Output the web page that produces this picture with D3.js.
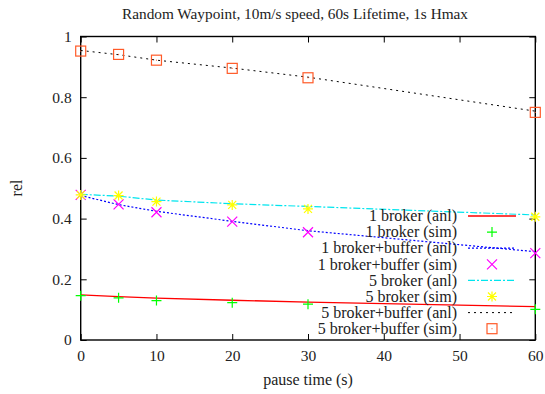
<!DOCTYPE html>
<html>
<head>
<meta charset="utf-8">
<script src="https://cdn.jsdelivr.net/npm/d3@7"></script>
<style>
  html, body { margin: 0; padding: 0; background: #fff; }
  svg text { font-family: "Liberation Serif", "Times New Roman", serif; fill: #222; }
</style>
</head>
<body>
<svg id="chart" width="545" height="394"></svg>
<script>
// Pause times (s) at which each configuration was evaluated
const pauseTimes = [0, 5, 10, 20, 30, 60];

// Reliability per configuration: analytical (anl) and simulated (sim)
const oneBrokerAnl       = [0.149, 0.143, 0.138, 0.131, 0.125, 0.110];
const oneBrokerSim       = [0.146, 0.139, 0.130, 0.123, 0.118, 0.101];
const oneBrokerBufAnl    = [0.476, 0.446, 0.424, 0.391, 0.360, 0.291];
const oneBrokerBufSim    = [0.478, 0.447, 0.421, 0.390, 0.355, 0.286];
const fiveBrokerAnl      = [0.480, 0.474, 0.461, 0.449, 0.440, 0.412];
const fiveBrokerSim      = [0.478, 0.476, 0.456, 0.445, 0.432, 0.406];
const fiveBrokerBufAnl   = [0.954, 0.940, 0.922, 0.896, 0.866, 0.754];
const fiveBrokerBufSim   = [0.952, 0.941, 0.922, 0.895, 0.864, 0.750];

const xTicks = [0, 10, 20, 30, 40, 50, 60];
const yTicks = [0, 0.2, 0.4, 0.6, 0.8, 1];

const seriesNames = [
  "1 broker (anl)", "1 broker (sim)",
  "1 broker+buffer (anl)", "1 broker+buffer (sim)",
  "5 broker (anl)", "5 broker (sim)",
  "5 broker+buffer (anl)", "5 broker+buffer (sim)"
];

(function () {
const svg = d3.select("#chart");
const plotLeft = 80.7, plotRight = 535.3, plotTop = 36.5, plotBottom = 340;
const fontSize = "16px";
const tickFont = "15.5px";

const x = d3.scaleLinear().domain([0, 60]).range([plotLeft, plotRight]);
const y = d3.scaleLinear().domain([0, 1]).range([plotBottom, plotTop]);

// Title
svg.append("text")
  .attr("x", 295).attr("y", 19)
  .attr("text-anchor", "middle")
  .style("font-size", "15.3px")
  .text("Random Waypoint, 10m/s speed, 60s Lifetime, 1s Hmax");

// Axes with inward ticks on all four sides
const tickLen = 6;
const axB = svg.append("g").attr("transform", `translate(0,${plotBottom})`)
  .call(d3.axisBottom(x).tickValues(xTicks).tickSizeInner(-tickLen).tickSizeOuter(0).tickPadding(10).tickFormat(d3.format("d")));
const axT = svg.append("g").attr("transform", `translate(0,${plotTop})`)
  .call(d3.axisTop(x).tickValues(xTicks).tickSizeInner(-tickLen).tickSizeOuter(0).tickFormat(""));
const axL = svg.append("g").attr("transform", `translate(${plotLeft},0)`)
  .call(d3.axisLeft(y).tickValues(yTicks).tickSizeInner(-tickLen).tickSizeOuter(0).tickPadding(9).tickFormat(d => d === 0 || d === 1 ? d3.format("d")(d) : d3.format(".1f")(d)));
const axR = svg.append("g").attr("transform", `translate(${plotRight},0)`)
  .call(d3.axisRight(y).tickValues(yTicks).tickSizeInner(-tickLen).tickSizeOuter(0).tickFormat(""));

[axB, axT, axL, axR].forEach(g => {
  g.select(".domain").remove();
  g.selectAll(".tick line").attr("stroke", "#000").attr("stroke-width", 1);
  g.selectAll("text").style("font-size", tickFont).attr("fill", "#222")
    .style("font-family", "'Liberation Serif', 'Times New Roman', serif");
});
axB.selectAll("text").attr("dy", "0.71em");

// Frame
svg.append("rect")
  .attr("x", plotLeft).attr("y", plotTop)
  .attr("width", plotRight - plotLeft).attr("height", plotBottom - plotTop)
  .attr("fill", "none").attr("stroke", "#000").attr("stroke-width", 1.4);

// Axis titles
svg.append("text")
  .attr("x", 308).attr("y", 385)
  .attr("text-anchor", "middle").style("font-size", fontSize)
  .text("pause time (s)");
svg.append("text")
  .attr("transform", "translate(22,188) rotate(-90)")
  .attr("text-anchor", "middle").style("font-size", fontSize)
  .text("rel");

// Point glyph drawers
const glyphs = {
  plus: (g, cx, cy, c) => {
    g.append("path").attr("d", `M${cx - 5},${cy}H${cx + 5}M${cx},${cy - 5}V${cy + 5}`)
      .attr("stroke", c).attr("stroke-width", 1.2).attr("fill", "none");
  },
  cross: (g, cx, cy, c) => {
    g.append("path").attr("d", `M${cx - 5},${cy - 5}L${cx + 5},${cy + 5}M${cx - 5},${cy + 5}L${cx + 5},${cy - 5}`)
      .attr("stroke", c).attr("stroke-width", 1.2).attr("fill", "none");
  },
  star: (g, cx, cy, c) => {
    g.append("path").attr("d", `M${cx - 5},${cy}H${cx + 5}M${cx},${cy - 5}V${cy + 5}M${cx - 4},${cy - 4}L${cx + 4},${cy + 4}M${cx - 4},${cy + 4}L${cx + 4},${cy - 4}`)
      .attr("stroke", c).attr("stroke-width", 1.2).attr("fill", "none");
  },
  square: (g, cx, cy, c) => {
    g.append("rect").attr("x", cx - 5).attr("y", cy - 5).attr("width", 10).attr("height", 10)
      .attr("stroke", c).attr("stroke-width", 1.2).attr("fill", "none");
    g.append("rect").attr("x", cx - 0.5).attr("y", cy - 0.5).attr("width", 1).attr("height", 1).attr("fill", c);
  }
};

const lineSeries = [
  { values: oneBrokerAnl,     color: "#ff0000", dash: null,        width: 1.3, legend: 0 },
  { values: oneBrokerBufAnl,  color: "#0000ff", dash: "2,2",       width: 1.2, legend: 2 },
  { values: fiveBrokerAnl,    color: "#00e5ee", dash: "7,2,2,2",   width: 1.2, legend: 4 },
  { values: fiveBrokerBufAnl, color: "#000000", dash: "2,4",       width: 1.0, legend: 6 }
];
const pointSeries = [
  { values: oneBrokerSim,     color: "#00ff00", glyph: "plus",   legend: 1 },
  { values: oneBrokerBufSim,  color: "#ff00ff", glyph: "cross",  legend: 3 },
  { values: fiveBrokerSim,    color: "#ffff00", glyph: "star",   legend: 5 },
  { values: fiveBrokerBufSim, color: "#ff5a28", glyph: "square", legend: 7 }
];

const line = d3.line().x((d, i) => x(pauseTimes[i])).y(d => y(d));
const plot = svg.append("g");

lineSeries.forEach(s => {
  plot.append("path").datum(s.values)
    .attr("d", line)
    .attr("fill", "none")
    .attr("stroke", s.color)
    .attr("stroke-width", s.width)
    .attr("stroke-dasharray", s.dash);
});
pointSeries.forEach(s => {
  const g = plot.append("g");
  s.values.forEach((v, i) => glyphs[s.glyph](g, x(pauseTimes[i]), y(v), s.color));
});

// Legend
const legend = svg.append("g");
const legTextX = 457, legKeyX0 = 468, legKeyX1 = 516, legY0 = 216, legDY = 16.1;
seriesNames.forEach((name, i) => {
  const ly = legY0 + i * legDY;
  legend.append("text")
    .attr("x", legTextX).attr("y", ly)
    .attr("text-anchor", "end").attr("dy", "0.33em")
    .style("font-size", fontSize)
    .text(name);
});
lineSeries.forEach(s => {
  const ly = legY0 + s.legend * legDY;
  legend.append("line")
    .attr("x1", legKeyX0).attr("x2", legKeyX1).attr("y1", ly).attr("y2", ly)
    .attr("stroke", s.color).attr("stroke-width", s.width)
    .attr("stroke-dasharray", s.dash);
});
pointSeries.forEach(s => {
  const ly = legY0 + s.legend * legDY;
  glyphs[s.glyph](legend, (legKeyX0 + legKeyX1) / 2, ly, s.color);
});
})();
</script>
</body>
</html>
